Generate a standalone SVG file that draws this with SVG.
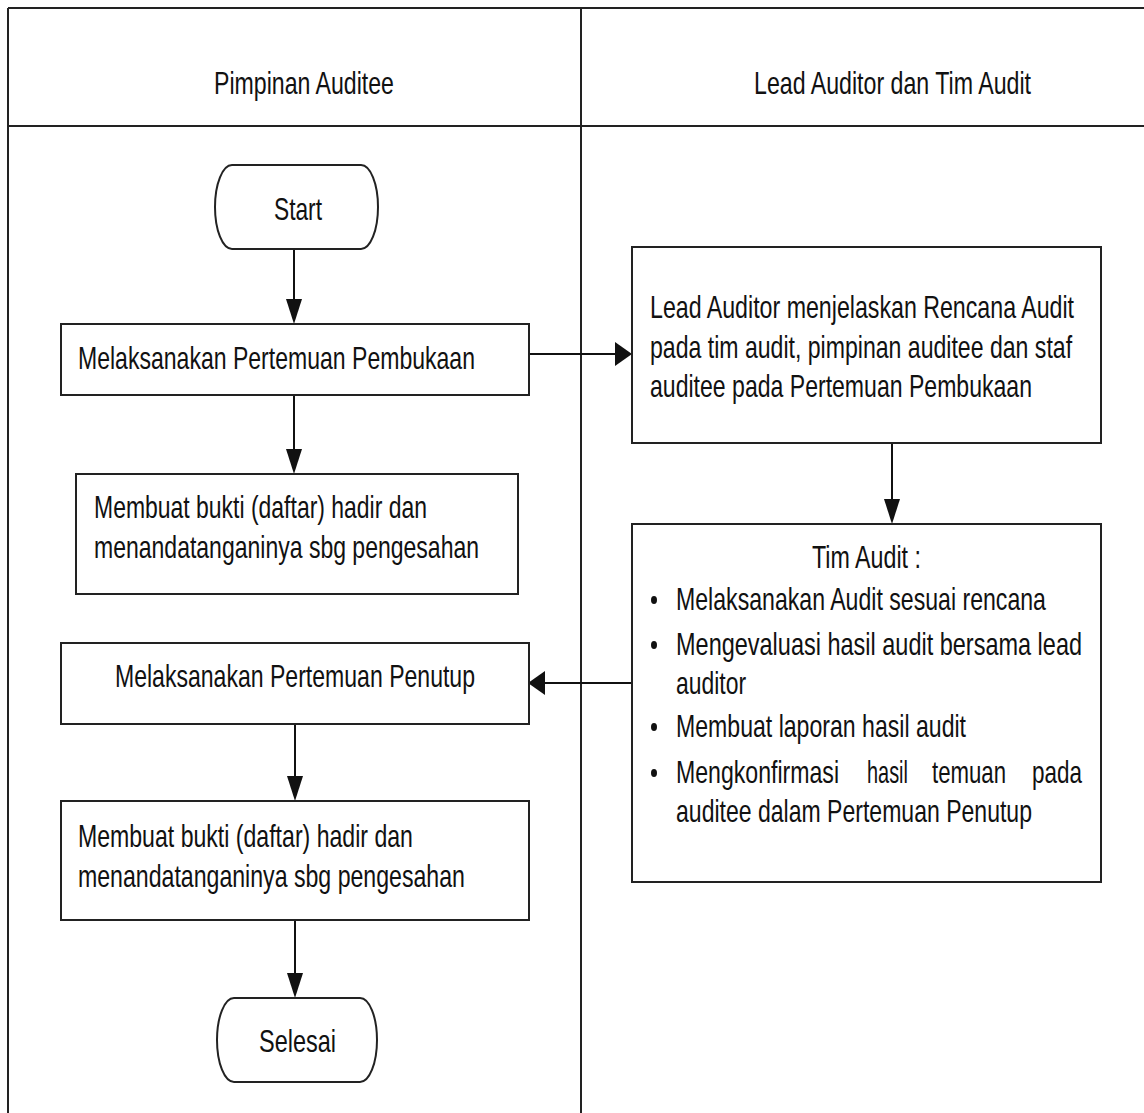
<svg xmlns="http://www.w3.org/2000/svg" width="1144" height="1113" viewBox="0 0 1144 1113">
<style>
.frame{stroke:#222;stroke-width:2;fill:none}
.box{fill:#fff;stroke:#222;stroke-width:2}
.ln{stroke:#111;stroke-width:2;fill:none}
.ah{fill:#111;stroke:none}
text{font-family:"Liberation Sans",Arial,sans-serif;font-size:31px;fill:#111}
</style>
<rect width="1144" height="1113" fill="#fff"/>
<g id="lanes">
<line class="frame" x1="8" y1="8" x2="1144" y2="8"/>
<line class="frame" x1="8" y1="126" x2="1144" y2="126"/>
<line class="frame" x1="8" y1="8" x2="8" y2="1113"/>
<line class="frame" x1="581" y1="8" x2="581" y2="1113"/>
<g transform="scale(0.76 1)">
<text x="281.6" y="94" textLength="236.8" lengthAdjust="spacingAndGlyphs">Pimpinan Auditee</text>
<text x="992.1" y="94" textLength="364.5" lengthAdjust="spacingAndGlyphs">Lead Auditor dan Tim Audit</text>
</g>
</g>
<g id="connectors">
<line class="ln" x1="294" y1="249" x2="294" y2="300"/>
<polygon class="ah" points="286,299 302,299 294,324"/>
<line class="ln" x1="294" y1="395" x2="294" y2="450"/>
<polygon class="ah" points="286,449 302,449 294,474"/>
<line class="ln" x1="529" y1="354" x2="616" y2="354"/>
<polygon class="ah" points="615,342 615,366 632,354"/>
<line class="ln" x1="892" y1="443" x2="892" y2="500"/>
<polygon class="ah" points="884,499 900,499 892,524"/>
<line class="ln" x1="632" y1="683" x2="544" y2="683"/>
<polygon class="ah" points="545,671 545,695 528,683"/>
<line class="ln" x1="295" y1="724" x2="295" y2="777"/>
<polygon class="ah" points="287,776 303,776 295,801"/>
<line class="ln" x1="295" y1="920" x2="295" y2="974"/>
<polygon class="ah" points="287,973 303,973 295,998"/>
</g>
<g id="start">
<path class="box" d="M232 165 H361 A17 42 0 0 1 361 249 H232 A17 42 0 0 1 232 165 Z"/>
<g transform="scale(0.76 1)">
<text x="360.5" y="220" textLength="63.2" lengthAdjust="spacingAndGlyphs">Start</text>
</g>
</g>
<g id="pembukaan">
<rect class="box" x="61" y="324" width="468" height="71"/>
<g transform="scale(0.76 1)">
<text x="102.6" y="369" textLength="522.4" lengthAdjust="spacingAndGlyphs">Melaksanakan Pertemuan Pembukaan</text>
</g>
</g>
<g id="daftar-hadir-1">
<rect class="box" x="76" y="474" width="442" height="120"/>
<g transform="scale(0.76 1)">
<text x="123.7" y="518" textLength="438.2" lengthAdjust="spacingAndGlyphs">Membuat bukti (daftar) hadir dan</text>
<text x="123.7" y="558" textLength="506.6" lengthAdjust="spacingAndGlyphs">menandatanganinya sbg pengesahan</text>
</g>
</g>
<g id="rencana-audit">
<rect class="box" x="632" y="247" width="469" height="196"/>
<g transform="scale(0.76 1)">
<text x="855.3" y="318" textLength="557.9" lengthAdjust="spacingAndGlyphs">Lead Auditor menjelaskan Rencana Audit</text>
<text x="855.3" y="358" textLength="555.3" lengthAdjust="spacingAndGlyphs">pada tim audit, pimpinan auditee dan staf</text>
<text x="855.3" y="397" textLength="502.6" lengthAdjust="spacingAndGlyphs">auditee pada Pertemuan Pembukaan</text>
</g>
</g>
<g id="tim-audit">
<rect class="box" x="632" y="524" width="469" height="358"/>
<ellipse class="ah" cx="654" cy="600" rx="3" ry="4"/>
<ellipse class="ah" cx="654" cy="645" rx="3" ry="4"/>
<ellipse class="ah" cx="654" cy="727" rx="3" ry="4"/>
<ellipse class="ah" cx="654" cy="773" rx="3" ry="4"/>
<g transform="scale(0.76 1)">
<text x="1068.4" y="568" textLength="143.4" lengthAdjust="spacingAndGlyphs">Tim Audit :</text>
<text x="889.5" y="610" textLength="486.8" lengthAdjust="spacingAndGlyphs">Melaksanakan Audit sesuai rencana</text>
<text x="889.5" y="655" textLength="534.2" lengthAdjust="spacingAndGlyphs">Mengevaluasi hasil audit bersama lead</text>
<text x="889.5" y="694" textLength="92.1" lengthAdjust="spacingAndGlyphs">auditor</text>
<text x="889.5" y="737" textLength="381.6" lengthAdjust="spacingAndGlyphs">Membuat laporan hasil audit</text>
<text x="889.5" y="783" textLength="214.5" lengthAdjust="spacingAndGlyphs">Mengkonfirmasi</text>
<text x="1140.8" y="783" textLength="53.9" lengthAdjust="spacingAndGlyphs">hasil</text>
<text x="1226.3" y="783" textLength="97.4" lengthAdjust="spacingAndGlyphs">temuan</text>
<text x="1357.9" y="783" textLength="65.8" lengthAdjust="spacingAndGlyphs">pada</text>
<text x="889.5" y="822" textLength="468.4" lengthAdjust="spacingAndGlyphs">auditee dalam Pertemuan Penutup</text>
</g>
</g>
<g id="penutup">
<rect class="box" x="61" y="643" width="468" height="81"/>
<g transform="scale(0.76 1)">
<text x="151.3" y="687" textLength="473.7" lengthAdjust="spacingAndGlyphs">Melaksanakan Pertemuan Penutup</text>
</g>
</g>
<g id="daftar-hadir-2">
<rect class="box" x="61" y="801" width="468" height="119"/>
<g transform="scale(0.76 1)">
<text x="102.6" y="847" textLength="440.8" lengthAdjust="spacingAndGlyphs">Membuat bukti (daftar) hadir dan</text>
<text x="102.6" y="887" textLength="509.2" lengthAdjust="spacingAndGlyphs">menandatanganinya sbg pengesahan</text>
</g>
</g>
<g id="selesai">
<path class="box" d="M234 998 H360 A17 42 0 0 1 360 1082 H234 A17 42 0 0 1 234 998 Z"/>
<g transform="scale(0.76 1)">
<text x="340.8" y="1052" textLength="101.3" lengthAdjust="spacingAndGlyphs">Selesai</text>
</g>
</g>
</svg>
